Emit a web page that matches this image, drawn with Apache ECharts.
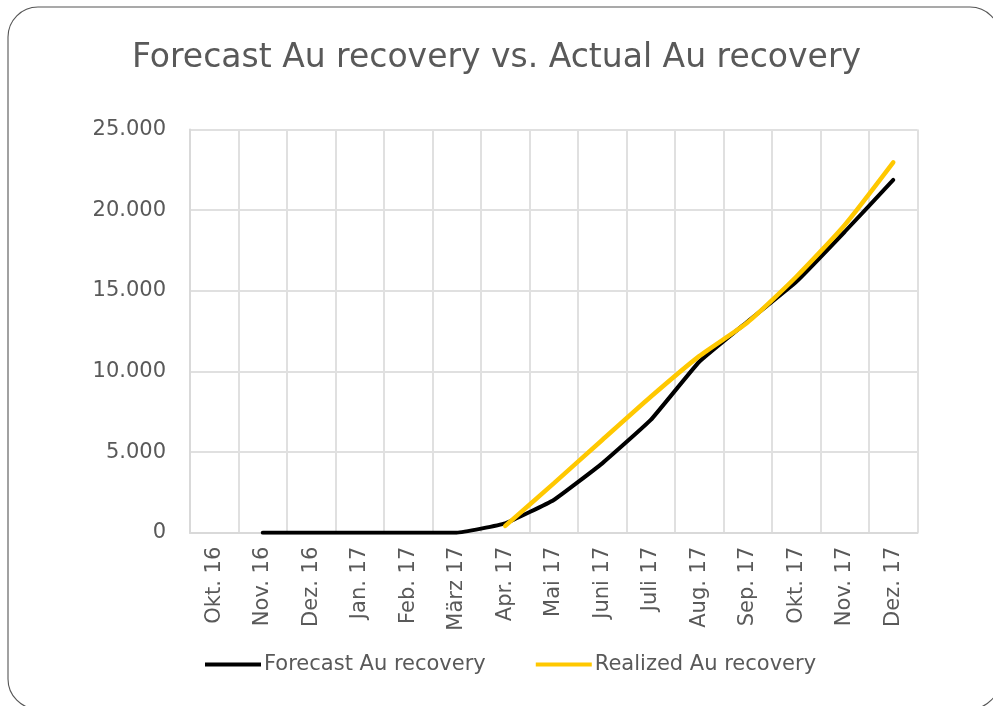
<!DOCTYPE html>
<html>
<head>
<meta charset="utf-8">
<script src="https://cdn.jsdelivr.net/npm/echarts@6/dist/echarts.min.js"></script>
<style>
  html, body { margin: 0; padding: 0; background: #fff; }
  #chart { width: 993px; height: 706px; }
</style>
</head>
<body>
<div id="chart"></div>
<script>
  // Monate (x-Achse)
  const months = ["Okt. 16", "Nov. 16", "Dez. 16", "Jan. 17", "Feb. 17", "März 17", "Apr. 17",
    "Mai 17", "Juni 17", "Juli 17", "Aug. 17", "Sep. 17", "Okt. 17", "Nov. 17", "Dez. 17"];
  // Prognose
  const forecast = [null, 0, 0, 0, 0, 0, 580, 2030, 4300, 6990, 10600, 13100, 15560, 18660, 21870];
  // Ist-Werte
  const realized = [null, null, null, null, null, null, 420, 3060, 5750, 8430, 10950, 13050, 15870, 19080, 22960];
  const yTicks = [0, 5000, 10000, 15000, 20000, 25000];

  const grey = "#595959";
  const font = "DejaVu Sans";

  function fmt(v) {
    // deutsches Tausendertrennzeichen
    return v === 0 ? "0" : String(v).replace(/\B(?=(\d{3})+(?!\d))/g, ".");
  }

  var myChart = echarts.init(document.getElementById("chart"));
  myChart.setOption({
    animation: false,
    textStyle: { fontFamily: font },
    graphic: [{
      type: "rect",
      shape: { x: 8, y: 7, width: 992, height: 702, r: 30 },
      style: { fill: "none", stroke: "#555", lineWidth: 1.1 },
      silent: true
    }],
    title: {
      text: "Forecast Au recovery vs. Actual Au recovery",
      left: "center",
      top: 37,
      textStyle: { color: grey, fontSize: 33, fontWeight: "normal", fontFamily: font }
    },
    legend: {
      bottom: 26,
      left: 200,
      itemWidth: 56,
      itemHeight: 4,
      itemGap: 50,
      icon: "rect",
      textStyle: { color: grey, fontSize: 21, fontFamily: font, padding: [0, 0, 0, -2] },
      data: ["Forecast Au recovery", "Realized Au recovery"]
    },
    grid: { left: 190, right: 75.5, top: 129.5, bottom: 173.3 },
    xAxis: {
      type: "category",
      data: months,
      boundaryGap: true,
      axisLine: { lineStyle: { color: "#d9d9d9", width: 2 } },
      axisTick: { show: false },
      axisLabel: { rotate: 90, margin: 14, color: grey, fontSize: 21, fontFamily: font, interval: 0 },
      splitLine: { show: true, interval: 0, lineStyle: { color: "#e0e0e0", width: 2 } }
    },
    yAxis: {
      type: "value",
      min: yTicks[0],
      max: yTicks[yTicks.length - 1],
      interval: 5000,
      axisLine: { show: true, lineStyle: { color: "#d9d9d9", width: 2 } },
      axisTick: { show: false },
      axisLabel: { margin: 24, color: grey, fontSize: 21, fontFamily: font, formatter: fmt },
      splitLine: { lineStyle: { color: "#e0e0e0", width: 2 } }
    },
    series: [
      {
        name: "Forecast Au recovery",
        type: "line",
        data: forecast,
        symbol: "none",
        smooth: 0.1,
        itemStyle: { color: "#000" },
        lineStyle: { color: "#000", width: 4, cap: "round" }
      },
      {
        name: "Realized Au recovery",
        type: "line",
        data: realized,
        symbol: "none",
        smooth: 0.2,
        itemStyle: { color: "#FFC800" },
        lineStyle: { color: "#FFC800", width: 4.5, cap: "round" }
      }
    ]
  });
</script>
</body>
</html>
